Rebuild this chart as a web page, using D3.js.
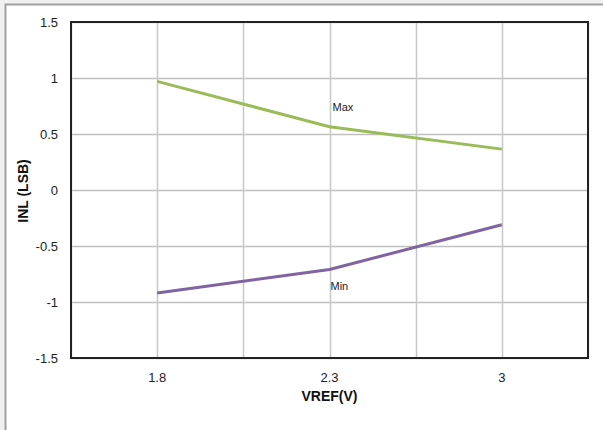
<!DOCTYPE html>
<html>
<head>
<meta charset="utf-8">
<script src="https://cdn.jsdelivr.net/npm/d3@7"></script>
<style>
  body { margin: 0; background: #f0f0f0; }
  svg { display: block; font-family: 'Liberation Sans', Arial, sans-serif; }
</style>
</head>
<body>
<svg id="chart"></svg>
<script>
const categories = ['1.8', '2.3', '3']
const maxValues = [0.97, 0.565, 0.365]
const minValues = [-0.92, -0.71, -0.31]
const yTicks = [-1.5, -1, -0.5, 0, 0.5, 1, 1.5]

const width = 603
const height = 430
const margin = { top: 22, right: 15, bottom: 72, left: 71 }

const svg = d3.select('#chart').attr('width', width).attr('height', height)

// outer frame
svg.append('rect')
  .attr('x', 5.5).attr('y', 4.5)
  .attr('width', width + 10).attr('height', height + 10)
  .attr('fill', '#fff')
  .attr('stroke', '#a0a0a0')
  .attr('stroke-width', 2)

const plotW = width - margin.left - margin.right
const plotH = height - margin.top - margin.bottom

const x = d3.scaleBand().domain(categories).range([0, plotW])
const y = d3.scaleLinear().domain([-1.5, 1.5]).range([plotH, 0])

const g = svg.append('g')
  .attr('transform', `translate(${margin.left},${margin.top})`)

// horizontal grid
g.selectAll('.hgrid')
  .data(yTicks)
  .enter().append('line')
  .attr('x1', 0).attr('x2', plotW)
  .attr('y1', d => Math.round(y(d)) + 0.5).attr('y2', d => Math.round(y(d)) + 0.5)
  .attr('stroke', '#c0c0c0').attr('stroke-width', 1.5)

// vertical grid: category centres and boundaries
const vLines = []
categories.forEach(c => {
  vLines.push(x(c))
  vLines.push(x(c) + x.bandwidth() / 2)
})
vLines.push(plotW)
g.selectAll('.vgrid')
  .data(vLines)
  .enter().append('line')
  .attr('x1', d => Math.round(d) + 0.5).attr('x2', d => Math.round(d) + 0.5)
  .attr('y1', 0).attr('y2', plotH)
  .attr('stroke', '#c8c8c8').attr('stroke-width', 1.5)

// plot border
g.append('rect')
  .attr('x', 0).attr('y', 0)
  .attr('width', plotW).attr('height', plotH)
  .attr('fill', 'none')
  .attr('stroke', '#222').attr('stroke-width', 2)

const cx = d => x(d) + x.bandwidth() / 2
const line = d3.line()
  .x((d, i) => cx(categories[i]))
  .y(d => y(d))

g.append('path')
  .datum(maxValues)
  .attr('d', line)
  .attr('fill', 'none')
  .attr('stroke', '#9bbb59')
  .attr('stroke-width', 3)

g.append('path')
  .datum(minValues)
  .attr('d', line)
  .attr('fill', 'none')
  .attr('stroke', '#8064a2')
  .attr('stroke-width', 3)

// series labels
g.append('text')
  .attr('x', cx('2.3') + 3).attr('y', y(maxValues[1]) - 16)
  .attr('font-size', 11).attr('fill', '#222')
  .text('Max')
g.append('text')
  .attr('x', cx('2.3') + 1).attr('y', y(minValues[1]) + 20)
  .attr('font-size', 11).attr('fill', '#222')
  .text('Min')

// y tick labels
g.selectAll('.ylab')
  .data(yTicks)
  .enter().append('text')
  .attr('x', -13).attr('y', d => y(d))
  .attr('dy', '0.35em')
  .attr('text-anchor', 'end')
  .attr('font-size', 13).attr('fill', '#222')
  .text(d => d)

// x tick labels
g.selectAll('.xlab')
  .data(categories)
  .enter().append('text')
  .attr('x', d => cx(d)).attr('y', plotH + 24)
  .attr('text-anchor', 'middle')
  .attr('font-size', 13).attr('fill', '#222')
  .text(d => d)

// axis titles
svg.append('text')
  .attr('x', margin.left + cx('2.3')).attr('y', 401)
  .attr('text-anchor', 'middle')
  .attr('font-size', 14).attr('font-weight', 'bold').attr('fill', '#111')
  .text('VREF(V)')

svg.append('text')
  .attr('transform', 'translate(28,191) rotate(-90)')
  .attr('text-anchor', 'middle')
  .attr('font-size', 14).attr('font-weight', 'bold').attr('fill', '#111')
  .text('INL (LSB)')
</script>
</body>
</html>
